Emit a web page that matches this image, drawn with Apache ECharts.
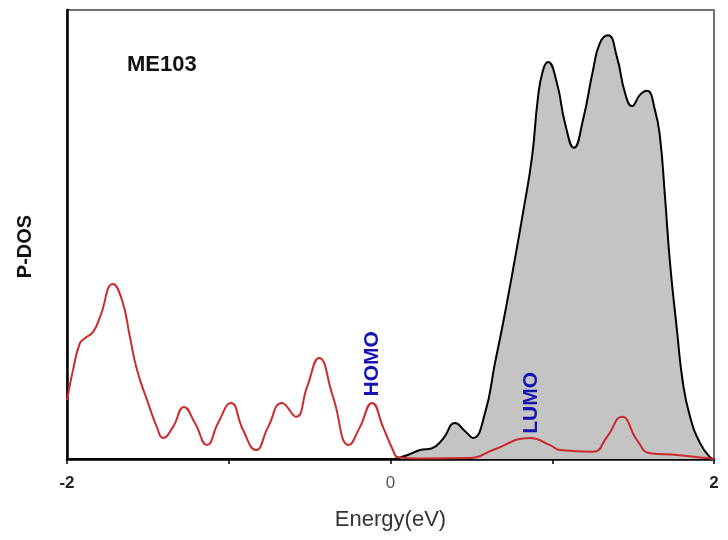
<!DOCTYPE html>
<html>
<head>
<meta charset="utf-8">
<script src="https://cdn.jsdelivr.net/npm/echarts@6/dist/echarts.min.js"></script>
<style>html,body{margin:0;padding:0;background:#fff}#c{width:728px;height:540px}</style>
</head>
<body>
<div id="c"></div>
<script>
// Red P-DOS curve (energy in eV, relative intensity)
const redE = [-2.000,-1.963,-1.920,-1.889,-1.839,-1.796,-1.716,-1.660,-1.611,-1.567,-1.499,-1.444,-1.406,-1.345,-1.277,-1.209,-1.134,-1.066,-0.986,-0.912,-0.832,-0.757,-0.671,-0.584,-0.516,-0.442,-0.355,-0.257,-0.189,-0.114,-0.046,0.015,0.046,0.182,0.491,0.634,0.862,0.986,1.048,1.252,1.338,1.431,1.524,1.604,1.771,1.957,2.000];
const redY = [13.1,19.8,25.8,26.9,28.3,31.6,39.0,35.4,27.2,19.8,12.5,7.1,4.7,7.1,11.6,8.0,3.1,8.0,12.5,6.5,2.0,7.1,12.5,9.4,16.0,22.5,13.8,3.1,7.1,12.5,7.1,2.0,0.4,0.1,0.2,2.0,4.7,3.1,2.0,1.6,4.9,9.4,4.2,1.3,0.9,0.2,0.0];
// Gray filled total DOS curve
const grayE = [-2.000,0.000,0.046,0.121,0.182,0.257,0.325,0.399,0.461,0.510,0.584,0.646,0.696,0.757,0.819,0.875,0.912,0.943,0.974,1.029,1.079,1.134,1.190,1.252,1.295,1.345,1.400,1.450,1.493,1.542,1.586,1.635,1.666,1.697,1.728,1.771,1.808,1.852,1.913,1.975,2.000];
const grayY = [0,0,0.2,1.1,2.0,2.4,4.5,8.0,6.2,4.7,10.2,21.4,30.3,42.1,54.8,67.3,80.6,86.6,88.4,83.7,74.8,69.3,75.5,86.6,92.7,94.4,89.5,81.5,78.6,81.1,82.0,77.7,71.7,58.4,43.7,28.7,16.9,9.4,3.6,0.4,0];
// Annotations
const annNames = ['HOMO','LUMO'];
const annE = [-0.114, 0.869];
const annY = [21.2, 12.5];
const xTickLabels = {'-2':'{b|-2}','0':'{n|0}','2':'{b|2}'};

const FONT = 'Liberation Sans, Arial, sans-serif';
const zip = (a,b)=>a.map((v,i)=>[v,b[i]]);
const chart = echarts.init(document.getElementById('c'));
chart.setOption({
  animation:false,
  backgroundColor:'#fff',
  title:{text:'ME103',left:127,top:54,padding:0,textStyle:{fontFamily:FONT,fontWeight:'bold',fontSize:22,color:'#111'}},
  grid:{left:67,right:14,top:10,bottom:81,show:true,borderColor:'#444',borderWidth:1.5},
  xAxis:{type:'value',min:-2,max:2,interval:1,
    name:'Energy(eV)',nameLocation:'middle',nameGap:50,
    nameTextStyle:{fontFamily:FONT,fontSize:22,color:'#333'},
    axisLine:{onZero:false,lineStyle:{color:'#000',width:2.5}},
    axisTick:{show:true,inside:false,length:5,lineStyle:{color:'#000',width:1.5}},
    axisLabel:{margin:16,formatter:v=>xTickLabels[String(v)]||'',
      rich:{b:{fontFamily:FONT,fontSize:17,fontWeight:'bold',color:'#222'},
            n:{fontFamily:FONT,fontSize:17,color:'#555'}}},
    splitLine:{show:false}},
  yAxis:{type:'value',min:0,max:100,
    name:'P-DOS',nameLocation:'middle',nameGap:32,
    nameTextStyle:{fontFamily:FONT,fontWeight:'bold',fontSize:20,color:'#111',padding:[0,24,0,0]},
    axisLine:{show:true,onZero:false,lineStyle:{color:'#000',width:2.5}},
    axisTick:{show:false},axisLabel:{show:false},splitLine:{show:false}},
  series:[
    {type:'line',data:zip(grayE,grayY),smooth:0.5,symbol:'none',
     lineStyle:{color:'#000',width:2},areaStyle:{color:'#c4c4c4',opacity:1},z:2},
    {type:'line',data:zip(redE,redY),smooth:0.5,symbol:'none',
     lineStyle:{color:'#cc2a2c',width:2},z:3},
    {type:'scatter',data:zip(annE,annY).map((p,i)=>({value:p,name:annNames[i]})),symbolSize:0,z:4,
     itemStyle:{opacity:1},
     label:{show:true,position:'inside',rotate:90,formatter:p=>p.name,opacity:1,
       fontFamily:FONT,fontWeight:'bold',fontSize:21,color:'#1414b0'}}
  ]
});
</script>
</body>
</html>
